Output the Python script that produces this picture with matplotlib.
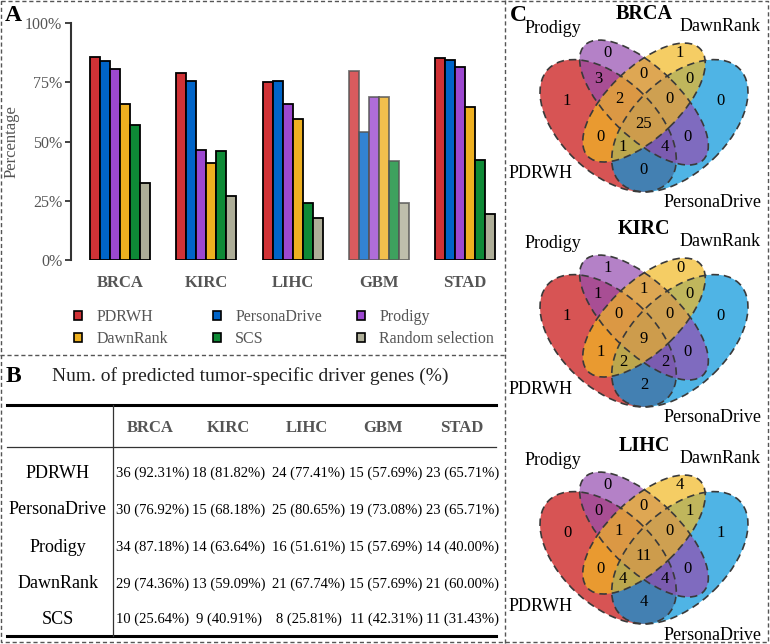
import matplotlib
matplotlib.use('Agg')
import matplotlib.pyplot as plt
from matplotlib.patches import Ellipse, Patch

plt.rcParams['font.family'] = ['Liberation Serif', 'DejaVu Serif']

# ---- panel A data (percentage of driver genes) ----
cancers = ['BRCA', 'KIRC', 'LIHC', 'GBM', 'STAD']
methods = ['PDRWH', 'PersonaDrive', 'Prodigy', 'DawnRank', 'SCS', 'Random selection']
pdrwh = [85.8, 78.8, 75.1, 79.7, 85.1]
personadrive = [84.1, 75.4, 75.5, 54.1, 84.5]
prodigy = [80.7, 46.4, 65.8, 68.6, 81.6]
dawnrank = [65.8, 40.8, 59.5, 68.9, 64.7]
scs = [57.1, 46.0, 23.9, 41.9, 42.1]
random_sel = [32.4, 27.0, 17.8, 23.9, 19.3]
bar_colors = ['#D03236', '#0064C8', '#9C48D0', '#EEB020', '#0E8A36', '#AEAE98']

# ---- panel B data ----
table_methods = ['PDRWH', 'PersonaDrive', 'Prodigy', 'DawnRank', 'SCS']
n_pdrwh = [36, 18, 24, 15, 23]
pct_pdrwh = [92.31, 81.82, 77.41, 57.69, 65.71]
n_personadrive = [30, 15, 25, 19, 23]
pct_personadrive = [76.92, 68.18, 80.65, 73.08, 65.71]
n_prodigy = [34, 14, 16, 15, 14]
pct_prodigy = [87.18, 63.64, 51.61, 57.69, 40.00]
n_dawnrank = [29, 13, 21, 15, 21]
pct_dawnrank = [74.36, 59.09, 67.74, 57.69, 60.00]
n_scs = [10, 9, 8, 11, 11]
pct_scs = [25.64, 40.91, 25.81, 42.31, 31.43]

# ---- panel C data (4-set venn, region keys = PDRWH Prodigy DawnRank PersonaDrive) ----
venn_names = ['BRCA', 'KIRC', 'LIHC']
region_keys = ['1000', '0100', '0010', '0001', '1100', '0110', '0011', '1110',
               '0111', '1111', '1010', '0101', '1011', '1101', '1001']
venn_brca = [1, 0, 1, 0, 3, 0, 0, 2, 0, 25, 0, 0, 1, 4, 0]
venn_kirc = [1, 1, 0, 0, 1, 1, 0, 0, 0, 9, 1, 0, 2, 2, 2]
venn_lihc = [0, 0, 4, 1, 0, 0, 1, 1, 0, 11, 0, 0, 4, 4, 4]

W, H = 770, 644
fig = plt.figure(figsize=(W / 100, H / 100), dpi=100)


def px_axes(x, y, w, h):
    # axes placed by pixel box (top-left origin)
    return fig.add_axes([x / W, 1 - (y + h) / H, w / W, h / H])


# overlay for borders, letters and the table
ov = px_axes(0, 0, W, H)
ov.set_xlim(0, W)
ov.set_ylim(H, 0)
ov.axis('off')

dash = dict(color='#555555', lw=1.0, ls=(0, (3, 2)))
ov.plot([1, 768, 768, 1, 1], [1, 1, 642, 642, 1], **dash)
ov.plot([0, 505], [355, 355], **dash)
ov.plot([505, 505], [0, 644], **dash)

ov.text(13, 15, 'A', fontsize=17, fontweight='bold', ha='center', va='center')
ov.text(13, 376, 'B', fontsize=17, fontweight='bold', ha='center', va='center')
ov.text(518, 15, 'C', fontsize=17, fontweight='bold', ha='center', va='center')

# ---------------- panel A ----------------
ax = px_axes(70.7, 23, 429.3, 237)
group_px = 86.3
ax.set_xlim((70.7 - 120) / group_px, (500 - 120) / group_px)
ax.set_ylim(0, 100)
bw = 10 / group_px
series = [pdrwh, personadrive, prodigy, dawnrank, scs, random_sel]
for j, vals in enumerate(series):
    for i, v in enumerate(vals):
        light = cancers[i] == 'GBM'
        ax.bar(i + (j - 2.5) * bw, v, width=bw, color=bar_colors[j],
               alpha=0.8 if light else 1.0,
               edgecolor='#555555' if light else 'black', linewidth=1.3)
for side in ['top', 'right', 'bottom']:
    ax.spines[side].set_visible(False)
ax.spines['left'].set_color('#333333')
ax.spines['left'].set_linewidth(1.5)
ax.set_xticks([])
ax.set_yticks([0, 25, 50, 75, 100])
ax.set_yticklabels(['%d%%' % t for t in [0, 25, 50, 75, 100]])
ax.tick_params(axis='y', length=4, width=1.3, color='#333333', labelcolor='#555555',
               labelsize=11.5, pad=2)
ax.set_ylabel('Percentage', fontsize=12, color='#555555', labelpad=4)
ax.patch.set_alpha(0)
for i, c in enumerate(cancers):
    ax.text(i, -23 / 237, c, transform=ax.get_xaxis_transform(), ha='center',
            va='center', fontsize=12, fontweight='bold', color='#555555')

# legend: one two-row column per legend so columns sit where the reference has them
handles = [Patch(facecolor=bar_colors[k], edgecolor='black', linewidth=1.2) for k in range(6)]
legend_cols = [(74, [0, 3]), (213, [1, 4]), (357, [2, 5])]
for lx, idx in legend_cols:
    leg = fig.legend([handles[k] for k in idx], [methods[k] for k in idx], ncol=1,
                     loc='upper left', bbox_to_anchor=(lx / W, 1 - 309 / H), frameon=False,
                     fontsize=11.5, labelcolor='#555555', handlelength=0.5, handleheight=0.5,
                     handletextpad=0.9, labelspacing=0.4, borderpad=0, borderaxespad=0)

# ---------------- panel B ----------------
ov.text(250, 376, 'Num. of predicted tumor-specific driver genes (%)', fontsize=14,
        ha='center', va='center', color='#222222')
ov.plot([7, 496], [405, 405], color='black', lw=2.2)
ov.plot([7, 496], [447, 447], color='#333333', lw=0.9)
ov.plot([7, 496], [636, 636], color='black', lw=2.2)
ov.plot([113, 113], [405, 636], color='#333333', lw=0.9)

head_x = [150, 228, 307, 383, 462]
col_x = [153, 229, 309, 386, 463]
row_y = [473, 510, 547, 584, 619]
for hx, c in zip(head_x, cancers):
    ov.text(hx, 428, c, fontsize=12, fontweight='bold', color='#555555',
            ha='center', va='center')
counts = [n_pdrwh, n_personadrive, n_prodigy, n_dawnrank, n_scs]
pcts = [pct_pdrwh, pct_personadrive, pct_prodigy, pct_dawnrank, pct_scs]
for r, m in enumerate(table_methods):
    ov.text(58, row_y[r], m, fontsize=13, ha='center', va='center')
    for k in range(5):
        ov.text(col_x[k], row_y[r], '%d (%.2f%%)' % (counts[r][k], pcts[r][k]),
                fontsize=10.5, ha='center', va='center')

# ---------------- panel C ----------------
fill_cols = {'PDRWH': '#C60C0C', 'PersonaDrive': '#0594DB',
             'Prodigy': '#944CB0', 'DawnRank': '#F1B822'}
# ellipse geometry in unit venn coordinates: x, y, semi-major, semi-minor, angle
shapes = {'PDRWH': (0.35, 0.47, 0.35, 0.20, 135),
          'PersonaDrive': (0.65, 0.47, 0.35, 0.20, 45),
          'Prodigy': (0.50, 0.57, 0.35, 0.15, 135),
          'DawnRank': (0.50, 0.57, 0.33, 0.15, 45)}
draw_order = ['PDRWH', 'PersonaDrive', 'Prodigy', 'DawnRank']
label_pos = {'1000': (0.178, 0.577), '0100': (0.349, 0.784), '0010': (0.651, 0.784),
             '0001': (0.822, 0.577), '1100': (0.308, 0.671), '0110': (0.5, 0.693),
             '0011': (0.692, 0.671), '1110': (0.395, 0.585), '0111': (0.605, 0.585),
             '1111': (0.5, 0.478), '1010': (0.320, 0.421), '0101': (0.680, 0.421),
             '1011': (0.412, 0.378), '1101': (0.588, 0.378), '1001': (0.5, 0.279)}
set_label_pos = {'Prodigy': (0.119, 0.891), 'DawnRank': (0.818, 0.896),
                 'PDRWH': (0.065, 0.262), 'PersonaDrive': (0.785, 0.137)}
venn_cy = [116, 331, 548]
sx, sy = 239.0, 232.0   # pixels per venn unit

for name, vals, cy in zip(venn_names, [venn_brca, venn_kirc, venn_lihc], venn_cy):
    vax = px_axes(505, cy - 110, 265, 220)
    vax.set_xlim(0.5 - 139 / sx, 0.5 + 126 / sx)
    vax.set_ylim(0.512 - 110 / sy, 0.512 + 110 / sy)
    vax.axis('off')
    for s in draw_order:
        x0, y0, a, b, ang = shapes[s]
        vax.add_patch(Ellipse((x0, y0), 2 * a, 2 * b, angle=ang, facecolor=fill_cols[s],
                              alpha=0.7, edgecolor='none'))
    for s in draw_order:
        x0, y0, a, b, ang = shapes[s]
        vax.add_patch(Ellipse((x0, y0), 2 * a, 2 * b, angle=ang, fill=False,
                              edgecolor='#3a3a3a', lw=1.2, ls=(0, (4.5, 3))))
    for key, v in zip(region_keys, vals):
        lx, ly = label_pos[key]
        vax.text(lx, ly, str(v), fontsize=12, ha='center', va='center')
    for s, (lx, ly) in set_label_pos.items():
        vax.text(lx, ly, s, fontsize=13, ha='center', va='center', clip_on=False)
    vax.text(0.5, 0.952, name, fontsize=14.5, fontweight='bold', ha='center',
             va='center', clip_on=False)

fig.savefig('out.png', dpi=100)
